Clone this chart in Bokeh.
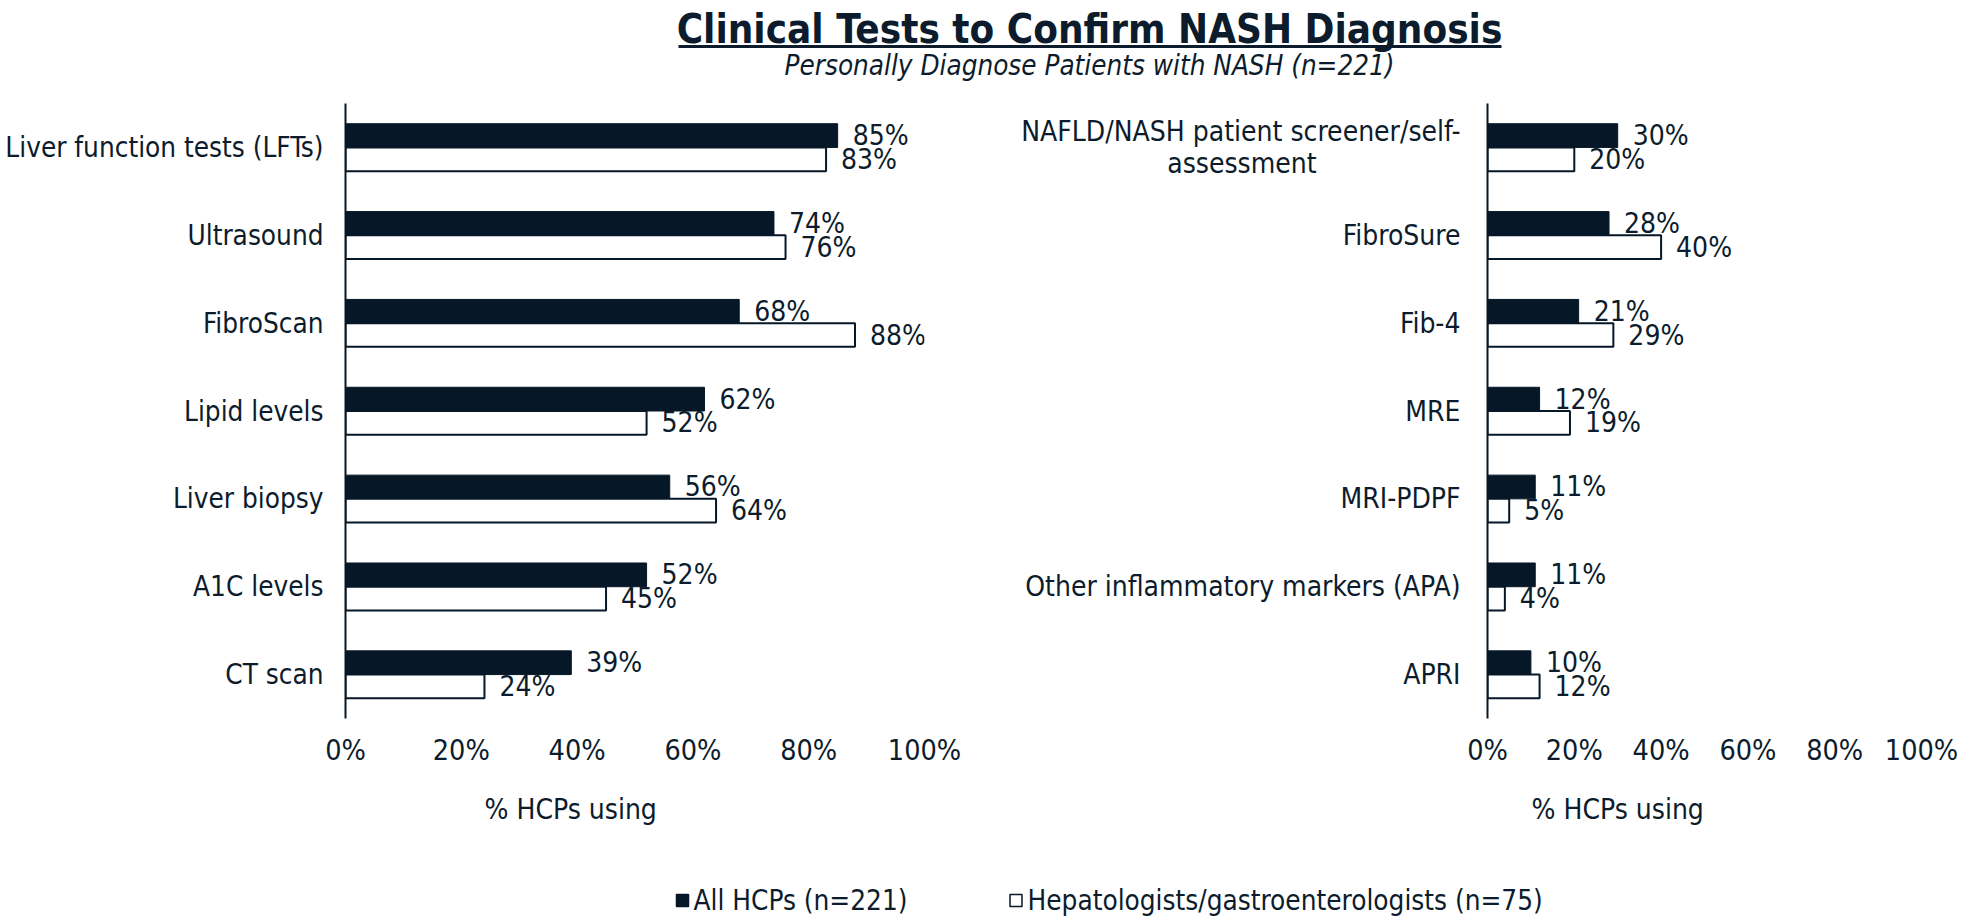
from bokeh.plotting import figure
from bokeh.models import ColumnDataSource, FactorRange, Range1d, FixedTicker, NumeralTickFormatter, Title
from bokeh.layouts import column, row
from bokeh.transform import dodge
from bokeh.core.properties import value
from bokeh.embed import file_html
from bokeh.resources import INLINE

title_text = "Clinical Tests to Confirm NASH Diagnosis"
subtitle_text = "Personally Diagnose Patients with NASH (n=221)"
series_names = ["All HCPs (n=221)", "Hepatologists/gastroenterologists (n=75)"]
axis_title = "% HCPs using"
x_ticks = [0, 0.2, 0.4, 0.6, 0.8, 1.0]

left_categories = ["Liver function tests (LFTs)", "Ultrasound", "FibroScan", "Lipid levels",
                   "Liver biopsy", "A1C levels", "CT scan"]
left_all = [85, 74, 68, 62, 56, 52, 39]
left_hep = [83, 76, 88, 52, 64, 45, 24]

NBSP = "\u00a0"
right_categories = ["NAFLD/NASH patient screener/self-\nassessment" + NBSP * 18, "FibroSure", "Fib-4", "MRE",
                    "MRI-PDPF", "Other inflammatory markers (APA)", "APRI"]
right_all = [30, 28, 21, 12, 11, 11, 10]
right_hep = [20, 40, 29, 19, 5, 4, 12]

DARK = "#061727"
TEXT = "#0c1c2c"
FONT = "DejaVu Sans Condensed"
FS = "28px"
BAR_H = 0.27


def make_chart(cats, all_vals, hep_vals, width, border_left, border_right, title_offset,
               label_size, label_standoff):
    src = ColumnDataSource(dict(
        cat=cats,
        all=[v / 100 for v in all_vals],
        hep=[v / 100 for v in hep_vals],
        all_lbl=[f"{v}%" for v in all_vals],
        hep_lbl=[f"{v}%" for v in hep_vals],
    ))
    p = figure(width=width, height=757,
               y_range=FactorRange(factors=list(reversed(cats))),
               x_range=Range1d(0, 1),
               output_backend="svg", toolbar_location=None,
               min_border_left=border_left, min_border_right=border_right,
               min_border_top=10, min_border_bottom=132)
    p.hbar(y=dodge("cat", BAR_H / 2, range=p.y_range), left=0, right="all", height=BAR_H,
           fill_color=DARK, line_color=DARK, line_width=1, source=src)
    p.hbar(y=dodge("cat", -BAR_H / 2, range=p.y_range), left=0, right="hep", height=BAR_H,
           fill_color="white", line_color=DARK, line_width=2, source=src)
    for col, lbl, off in (("all", "all_lbl", BAR_H / 2), ("hep", "hep_lbl", -BAR_H / 2)):
        p.text(x=col, y=dodge("cat", off, range=p.y_range), text=lbl, x_offset=15,
               text_align="left", text_baseline="middle",
               text_font=value(FONT), text_font_size=value(FS), text_color=TEXT, source=src)

    p.xaxis.ticker = FixedTicker(ticks=x_ticks)
    p.xaxis.formatter = NumeralTickFormatter(format="0%")
    p.xaxis.axis_line_color = None
    p.xaxis.major_tick_line_color = None
    p.xaxis.minor_tick_line_color = None
    p.xaxis.major_label_standoff = 9
    p.yaxis.axis_line_color = DARK
    p.yaxis.axis_line_width = 2
    p.yaxis.major_tick_line_color = None
    p.yaxis.minor_tick_line_color = None
    p.yaxis.major_label_standoff = label_standoff
    p.yaxis.major_label_text_line_height = 0.95
    for ax in (p.xaxis, p.yaxis):
        ax.major_label_text_font = FONT
        ax.major_label_text_color = TEXT
    p.yaxis.major_label_text_font_size = label_size
    p.xaxis.major_label_text_font_size = "28.5px"
    p.xgrid.grid_line_color = None
    p.ygrid.grid_line_color = None
    p.outline_line_color = None

    t = Title(text=axis_title, align="left", offset=title_offset, text_font=FONT,
              text_font_size=FS, text_font_style="normal", text_color=TEXT, standoff=42)
    p.add_layout(t, "below")
    return p


left = make_chart(left_categories, left_all, left_hep, 990, 345, 66, 139, "27.7px", 16)
right = make_chart(right_categories, right_all, right_hep, 970, 497, 39, 44, "28px", 21)

header = figure(width=1960, height=93, x_range=Range1d(0, 1960), y_range=Range1d(93, 0),
                output_backend="svg", toolbar_location=None, min_border=0,
                x_axis_type=None, y_axis_type=None)
header.grid.grid_line_color = None
header.outline_line_color = None
header.text(x=[1089], y=[28], text=[title_text], text_align="center", text_baseline="middle",
            text_font=value(FONT), text_font_size=value("40px"), text_font_style="bold",
            text_color=TEXT)
header.segment(x0=[678], y0=[46], x1=[1501], y1=[46], line_width=3, line_color=TEXT)
header.text(x=[1089], y=[65], text=[subtitle_text], text_align="center", text_baseline="middle",
            text_font=value(FONT), text_font_size=value("27.6px"), text_font_style="italic",
            text_color=TEXT)

leg = figure(width=1960, height=66, x_range=Range1d(0, 1960), y_range=Range1d(66, 0),
             output_backend="svg", toolbar_location=None, min_border=0,
             x_axis_type=None, y_axis_type=None)
leg.grid.grid_line_color = None
leg.outline_line_color = None
leg.scatter(x=[682, 1015.5], y=[50, 50], marker="square", size=12,
            fill_color=[DARK, "white"], line_color=DARK, line_width=1.5)
leg.text(x=[693, 1027], y=[50, 50], text=series_names, text_align="left", text_baseline="middle",
         text_font=value(FONT), text_font_size=value("27.7px"), text_color=TEXT)

layout = column(header, row(left, right), leg)
open("out.html", "w").write(file_html(layout, INLINE))
